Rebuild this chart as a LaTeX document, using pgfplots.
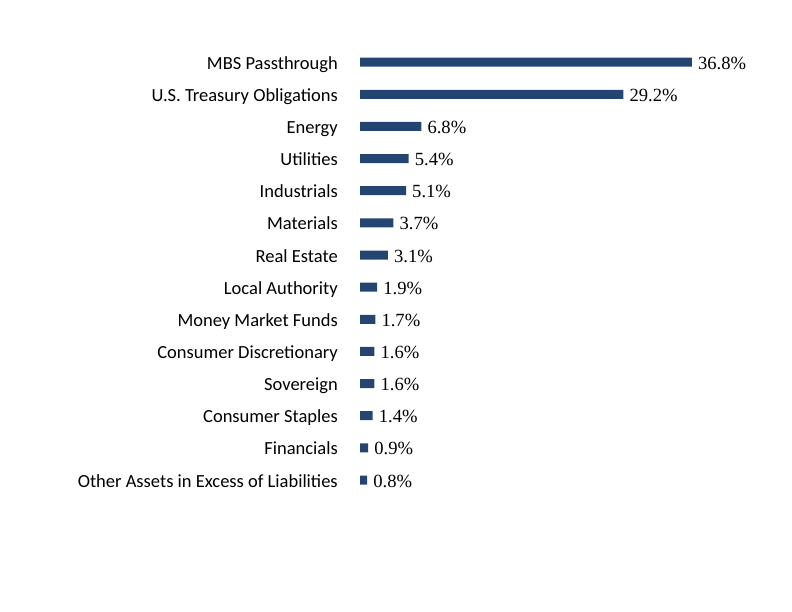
\documentclass[border=0pt]{standalone}
\usepackage{pgfplots}
\pgfplotsset{compat=1.18}
\usepackage{fontspec}
\setmainfont{Liberation Serif}
\newfontfamily\labelfont{Carlito}
\definecolor{barblue}{RGB}{36,69,114}

\begin{document}
\begin{tikzpicture}
\path[use as bounding box] (0,0) rectangle (792bp,612bp);
\begin{axis}[
  at={(360bp,115.9bp)}, anchor=south west,
  scale only axis, width=360.8bp, height=450bp,
  xmin=0, xmax=40, ymin=-0.5, ymax=13.5, y dir=reverse,
  xbar, bar width=9bp,
  axis line style={draw=none}, xtick=\empty, major tick length=0pt,
  /pgf/number format/assume math mode=true,
  ytick={0,...,13},
  yticklabels={MBS Passthrough, U.S. Treasury Obligations, Energy, Utilities,
    Industrials, Materials, Real Estate, Local Authority, Money Market Funds,
    Consumer Discretionary, Sovereign, Consumer Staples, Financials,
    Other Assets in Excess of Liabilities},
  yticklabel style={font=\labelfont\fontsize{18.5bp}{20bp}\selectfont,
    anchor=base east, inner sep=0pt, xshift=-22bp, yshift=-7bp},
  nodes near coords={\pgfmathprintnumber[fixed,fixed zerofill,precision=1,assume math mode=true]{\pgfplotspointmeta}\%},
  every node near coord/.append style={font=\fontsize{18.6bp}{20bp}\selectfont,
    anchor=base west, inner sep=0pt, xshift=6bp, yshift=-7bp, text=black},
]
\addplot[fill=barblue, draw=none] coordinates {
  (36.8,0) (29.2,1) (6.8,2) (5.4,3) (5.1,4) (3.7,5) (3.1,6)
  (1.9,7) (1.7,8) (1.6,9) (1.6,10) (1.4,11) (0.9,12) (0.8,13)
};
\end{axis}
\end{tikzpicture}
\end{document}
